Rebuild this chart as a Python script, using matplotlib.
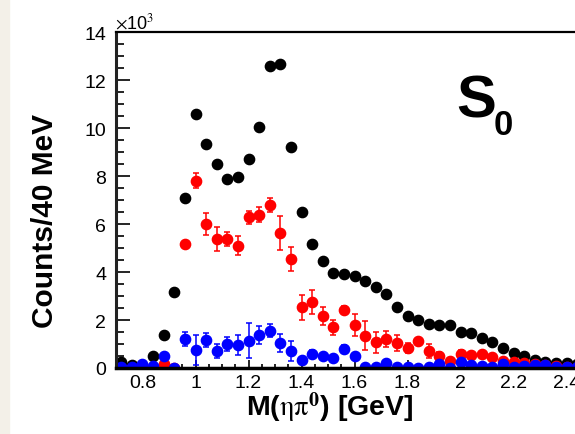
import matplotlib
matplotlib.use("Agg")
import matplotlib.pyplot as plt
from matplotlib.patches import Rectangle
from matplotlib.ticker import MultipleLocator, FuncFormatter

plt.rcParams['font.family'] = ['Liberation Sans', 'DejaVu Sans']
plt.rcParams['mathtext.fontset'] = 'stix'

# bin centres, 40 MeV bins (GeV)
mass = [0.72 + 0.04 * i for i in range(44)]

# counts in units of 10^3
black_vals = [0.25, 0.13, 0.05, 0.51, 1.39, 3.18, 7.10, 10.6, 9.33, 8.49, 7.86,
              7.97, 8.71, 10.04, 12.57, 12.65, 9.21, 6.52, 5.16, 4.46, 3.96, 3.92,
              3.82, 3.64, 3.39, 3.08, 2.53, 2.18, 2.01, 1.83, 1.79, 1.79, 1.51,
              1.44, 1.24, 1.07, 0.83, 0.63, 0.49, 0.35, 0.24, 0.20, 0.20, 0.17]
black_err = [0.05] * 44

red_vals = [0.0, 0.0, 0.0, 0.0, 0.17, 0.0, 5.15, 7.81, 6.0, 5.38, 5.38,
            5.10, 6.28, 6.39, 6.8, 5.63, 4.56, 2.53, 2.74, 2.18, 1.69, 2.42,
            1.79, 1.35, 1.07, 1.21, 1.03, 0.83, 1.14, 0.72, 0.51, 0.31, 0.58,
            0.54, 0.58, 0.44, 0.31, 0.24, 0.20, 0.15, 0.12, 0.08, 0.06, 0.0]
red_err = [0.05, 0.05, 0.05, 0.05, 0.05, 0.05, 0.15, 0.33, 0.44, 0.5, 0.3,
           0.4, 0.28, 0.3, 0.3, 0.7, 0.5, 0.53, 0.49, 0.37, 0.3, 0.15,
           0.44, 0.6, 0.43, 0.35, 0.33, 0.2, 0.1, 0.3, 0.15, 0.1, 0.15,
           0.1, 0.1, 0.1, 0.08, 0.08, 0.08, 0.08, 0.08, 0.08, 0.08, 0.08]

blue_vals = [0.03, 0.03, 0.17, 0.07, 0.51, 0.0, 1.21, 0.76, 1.17, 0.72, 1.0,
             0.96, 1.14, 1.38, 1.56, 1.03, 0.72, 0.35, 0.60, 0.49, 0.42, 0.79,
             0.49, 0.03, 0.05, 0.2, 0.03, 0.05, 0.0, 0.05, 0.17, 0.0, 0.24,
             0.12, 0.08, 0.05, 0.15, 0.05, 0.08, 0.12, 0.12, 0.05, 0.05, 0.03]
blue_err = [0.05, 0.05, 0.05, 0.05, 0.12, 0.05, 0.28, 0.62, 0.28, 0.3, 0.28,
            0.42, 0.72, 0.38, 0.28, 0.38, 0.42, 0.1, 0.15, 0.12, 0.12, 0.15,
            0.15, 0.05, 0.05, 0.05, 0.05, 0.05, 0.05, 0.05, 0.05, 0.05, 0.05,
            0.05, 0.05, 0.05, 0.05, 0.05, 0.05, 0.05, 0.05, 0.05, 0.05, 0.05]

fig = plt.figure(figsize=(5.75, 4.35), dpi=100)
fig.patches.append(Rectangle((0, 0), 9 / 575, 1, transform=fig.transFigure,
                             color='#f3f0e8', zorder=0))

ax = fig.add_axes([116 / 575, 66 / 435, 477 / 575, 336 / 435])

for vals, err, col in [(black_vals, black_err, 'black'),
                       (red_vals, red_err, 'red'),
                       (blue_vals, blue_err, 'blue')]:
    ax.errorbar(mass, vals, yerr=err, fmt='o', color=col, ms=7.4,
                elinewidth=1.1, capsize=2.5, capthick=1.1, mec=col)

ax.set_xlim(0.7, 2.5)
ax.set_ylim(0, 14)

ax.spines['right'].set_visible(False)
ax.spines['left'].set_linewidth(2.2)
ax.spines['left'].set_color('#222222')
ax.spines['bottom'].set_linewidth(2.5)
ax.spines['top'].set_linewidth(1.6)

ax.yaxis.set_major_locator(MultipleLocator(2))
ax.yaxis.set_minor_locator(MultipleLocator(0.5))
ax.xaxis.set_major_locator(MultipleLocator(0.2))
ax.xaxis.set_minor_locator(MultipleLocator(0.05))
ax.xaxis.set_major_formatter(FuncFormatter(lambda v, p: '%g' % round(v, 2)))
ax.yaxis.set_major_formatter(FuncFormatter(lambda v, p: '%g' % v))

ax.tick_params(axis='y', which='major', direction='in', length=10, width=1.2,
               labelsize=14, pad=7)
ax.tick_params(axis='y', which='minor', direction='in', length=5.8, width=1.2)
ax.tick_params(axis='x', which='major', direction='in', length=5.5, width=1.2,
               labelsize=14, pad=4)
ax.tick_params(axis='x', which='minor', direction='in', length=3, width=1.2)

fig.text(115 / 575, 1 - 29 / 435, r'$\times$10$^{3}$', fontsize=13,
         ha='left', va='baseline')

fig.text(330 / 575, 1 - 408 / 435, r'M($\mathrm{\eta\pi}^{\mathbf{0}}$) [GeV]',
         fontsize=20.5, fontweight='bold', ha='center', va='center')
fig.text(45 / 575, 1 - 221 / 435, 'Counts/40 MeV', fontsize=21.5,
         fontweight='bold', rotation=90, ha='center', va='center')

fig.text(456 / 575, 1 - 118 / 435, 'S', fontsize=43, fontweight='bold',
         ha='left', va='baseline')
fig.text(494 / 575, 1 - 135 / 435, '0', fontsize=25, fontweight='bold',
         ha='left', va='baseline')

fig.savefig('out.png', dpi=100)
